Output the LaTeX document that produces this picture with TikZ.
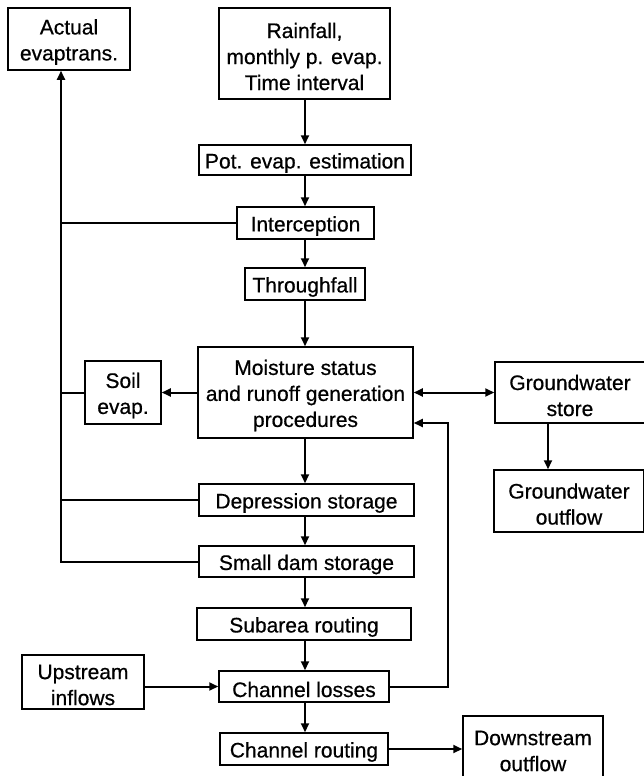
\documentclass[tikz,border=0pt]{standalone}
\usepackage{fontspec}
\setmainfont{Liberation Sans}[FakeBold=0.6]
\usetikzlibrary{arrows.meta}
\begin{document}
\begin{tikzpicture}[x=1pt,y=-1pt,
  box/.style={draw, line width=1.5pt, rectangle, inner sep=0pt},
  txt/.style={align=center, inner sep=0pt, yshift=-3pt,
    font=\fontsize{21}{26}\selectfont},
  arr/.style={line width=2pt, -{Triangle[length=9pt,width=8pt]}},
  darr/.style={line width=2pt, {Triangle[length=9pt,width=8pt]}-{Triangle[length=9pt,width=8pt]}},
  ln/.style={line width=2pt}]
\useasboundingbox (0,0) rectangle (644,776);
\clip (0,0) rectangle (644,776);
\node[box, minimum width=122pt, minimum height=62pt, label={[txt]center:{Actual\\evaptrans.}}] (actual) at (69,39) {};
\node[box, minimum width=171pt, minimum height=91pt, label={[txt]center:{Rainfall,\\monthly p. evap.\\Time interval}}] (rain) at (304.5,53.5) {};
\node[box, minimum width=212pt, minimum height=30pt, label={[txt]center:{Pot. evap. estimation}}] (pot) at (305,160) {};
\node[box, minimum width=137pt, minimum height=32pt, label={[txt]center:{Interception}}] (interc) at (305.5,223) {};
\node[box, minimum width=120pt, minimum height=32pt, label={[txt]center:{Throughfall}}] (through) at (305,284) {};
\node[box, minimum width=215pt, minimum height=91pt, label={[txt]center:{Moisture status\\and runoff generation\\procedures}}] (moist) at (305.5,392.5) {};
\node[box, minimum width=76pt, minimum height=63pt, label={[txt]center:{Soil\\evap.}}] (soil) at (123,392.5) {};
\node[box, minimum width=150pt, minimum height=61pt, label={[txt]center:{Groundwater\\store}}] (gws) at (570,392.5) {};
\node[box, minimum width=150pt, minimum height=62pt, label={[txt]center:{Groundwater\\outflow}}] (gwo) at (569,501) {};
\node[box, minimum width=215pt, minimum height=32pt, label={[txt]center:{Depression storage}}] (dep) at (306.5,500) {};
\node[box, minimum width=215pt, minimum height=31pt, label={[txt]center:{Small dam storage}}] (dam) at (306.5,561.5) {};
\node[box, minimum width=214pt, minimum height=32pt, label={[txt]center:{Subarea routing}}] (sub) at (304,624) {};
\node[box, minimum width=122pt, minimum height=54pt, label={[txt]center:{Upstream\\inflows}}] (up) at (83,682) {};
\node[box, minimum width=170pt, minimum height=31pt, label={[txt]center:{Channel losses}}] (loss) at (304,686.5) {};
\node[box, minimum width=168pt, minimum height=32pt, label={[txt]center:{Channel routing}}] (rout) at (304,749) {};
\node[box, minimum width=140pt, minimum height=64pt, label={[txt]center:{Downstream\\outflow}}] (down) at (533,748) {};
% main chain
\coordinate (cx) at (305,0);
\draw[arr] (rain.south -| cx) -- (pot.north -| cx);
\draw[arr] (pot.south -| cx) -- (interc.north -| cx);
\draw[arr] (interc.south -| cx) -- (through.north -| cx);
\draw[arr] (through.south -| cx) -- (moist.north -| cx);
\draw[arr] (moist.south -| cx) -- (dep.north -| cx);
\draw[arr] (dep.south -| cx) -- (dam.north -| cx);
\draw[arr] (dam.south -| cx) -- (sub.north -| cx);
\draw[arr] (sub.south -| cx) -- (loss.north -| cx);
\draw[arr] (loss.south -| cx) -- (rout.north -| cx);
% evaporation trunk
\coordinate (tb) at (61,563);
\draw[arr] (dam.west) -- (dam.west -| tb) -- (tb |- actual.south);
\draw[ln] (interc.west) -- (interc.west -| tb);
\draw[ln] (soil.west) -- (soil.west -| tb);
\draw[ln] (dep.west) -- (dep.west -| tb);
\draw[arr] (moist.west) -- (soil.east);
% groundwater
\draw[darr] (moist.east) -- (gws.west);
\coordinate (gx) at (548,0);
\draw[arr] (gws.south -| gx) -- (gwo.north -| gx);
% feedback
\coordinate (fb) at (448,423);
\draw[arr] (loss.east) -| (fb) -- (fb -| moist.east);
% inflow / outflow
\draw[arr] (up.east |- loss.west) -- (loss.west);
\draw[arr] (rout.east) -- (rout.east -| down.west);
\end{tikzpicture}
\end{document}
